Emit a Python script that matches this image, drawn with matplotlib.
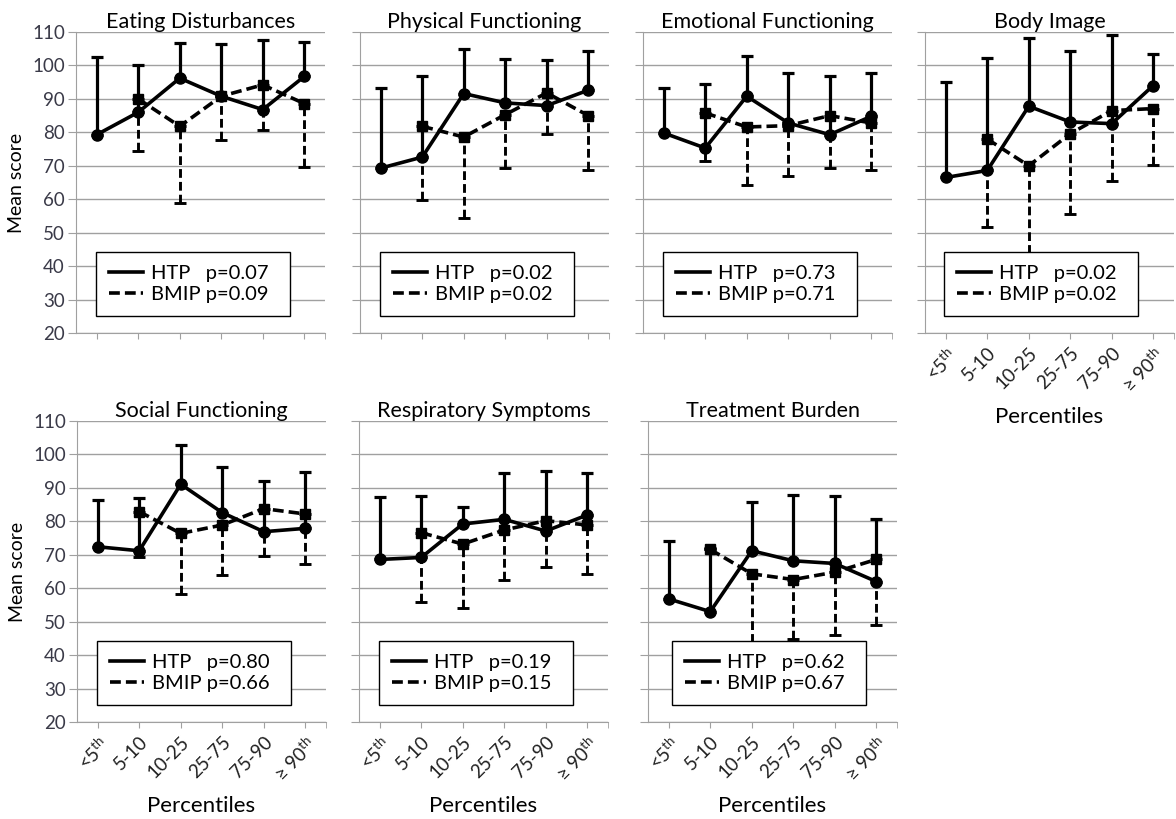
import numpy as np
import matplotlib
matplotlib.use('Agg')
import matplotlib.pyplot as plt
from matplotlib.lines import Line2D

plt.rcParams['font.family'] = ['Lato', 'DejaVu Sans']
plt.rcParams['mathtext.fontset'] = 'custom'
plt.rcParams['mathtext.rm'] = 'Lato'

# categories (percentile groups)
categories = ['<5$^{\\rm th}$', '5-10', '10-25', '25-75', '75-90', '\u2265 90$^{\\rm th}$']

titles = ['Eating Disturbances', 'Physical Functioning', 'Emotional Functioning', 'Body Image',
          'Social Functioning', 'Respiratory Symptoms', 'Treatment Burden']

# HTP mean and upper end of error bar (6 groups)
htp_mean = [
    [79.3, 86.0, 96.2, 90.8, 86.8, 96.7],
    [69.3, 72.6, 91.6, 88.8, 88.0, 92.6],
    [79.8, 75.3, 90.8, 82.8, 79.3, 84.8],
    [66.5, 68.6, 87.8, 83.1, 82.6, 94.0],
    [72.4, 71.2, 91.1, 82.6, 76.9, 77.9],
    [68.6, 69.2, 79.2, 80.6, 77.1, 81.9],
    [56.8, 53.0, 71.2, 68.2, 67.4, 62.0],
]
htp_upper = [
    [102.5, 100.0, 106.7, 106.4, 107.5, 106.9],
    [93.3, 96.9, 104.9, 101.9, 101.7, 104.2],
    [93.3, 94.6, 102.9, 97.7, 96.7, 97.7],
    [95.0, 102.2, 108.2, 104.2, 109.2, 103.4],
    [86.3, 87.1, 102.9, 96.3, 92.1, 94.8],
    [87.3, 87.6, 84.3, 94.5, 95.0, 94.5],
    [74.2, 72.0, 85.8, 87.8, 87.6, 80.6],
]

# BMIP mean and lower end of error bar (groups 5-10 ... >=90th)
bmip_mean = [
    [90.0, 81.8, 90.8, 94.2, 88.6],
    [81.8, 78.6, 85.3, 91.8, 85.0],
    [85.8, 81.6, 82.0, 85.0, 82.8],
    [78.0, 70.0, 79.6, 86.5, 87.1],
    [82.9, 76.4, 78.9, 83.8, 82.2],
    [76.6, 73.2, 77.4, 80.2, 78.9],
    [71.6, 64.3, 62.6, 64.8, 68.6],
]
bmip_lower = [
    [74.3, 58.9, 77.8, 80.8, 69.6],
    [59.9, 54.4, 69.3, 79.5, 68.8],
    [71.3, 64.2, 66.8, 69.3, 68.8],
    [51.7, 36.0, 55.6, 65.5, 70.1],
    [69.4, 58.3, 64.0, 69.7, 67.1],
    [56.0, 54.0, 62.5, 66.2, 64.2],
    [71.6, 36.0, 44.8, 46.0, 48.9],
]

htp_p = ['0.07', '0.02', '0.73', '0.02', '0.80', '0.19', '0.62']
bmip_p = ['0.09', '0.02', '0.71', '0.02', '0.66', '0.15', '0.67']

grey = '#a0a0a0'
dash = (0, (3, 1.4))

fig = plt.figure(figsize=(11.76, 8.19), dpi=100)
W, H = 1176, 819
boxes = [(76, 32), (360, 32), (643, 32), (925, 32),
         (77, 421), (359, 421), (648, 421)]
aw, ah = 249, 301
leg_x = [0.08, 0.08, 0.08, 0.076, 0.08, 0.08, 0.096]

x = np.arange(6)
for i, (px, py) in enumerate(boxes):
    ax = fig.add_axes([px / W, 1 - (py + ah) / H, aw / W, ah / H])
    hm = np.array(htp_mean[i]); hu = np.array(htp_upper[i])
    bm = np.array(bmip_mean[i]); bl = np.array(bmip_lower[i])

    ax.errorbar(x, hm, yerr=[np.zeros(6), hu - hm], fmt='none', ecolor='k',
                elinewidth=2.3, capsize=4, capthick=2.3, zorder=3)
    ax.plot(x, hm, '-o', color='k', lw=2.6, ms=8, zorder=4)
    eb = ax.errorbar(x[1:], bm, yerr=[bm - bl, np.zeros(5)], fmt='none', ecolor='k',
                     elinewidth=2.1, capsize=4, capthick=2.1, zorder=3)
    eb[2][0].set_linestyle(dash)
    ax.plot(x[1:], bm, 's', color='k', ls=dash, lw=2.6, ms=7, zorder=4)

    ax.set_xlim(-0.5, 5.5)
    ax.set_ylim(20, 110)
    ax.set_yticks(np.arange(20, 111, 10))
    ax.set_xticks(x)
    ax.set_xticks([5.5], minor=True)
    ax.grid(axis='y', color=grey, lw=1)
    ax.set_axisbelow(True)
    for s in ['top', 'right']:
        ax.spines[s].set_visible(False)
    for s in ['left', 'bottom']:
        ax.spines[s].set_color(grey)
    ax.tick_params(axis='y', length=6, color=grey, labelsize=13.5, labelcolor='#3a3a48', pad=2)
    ax.tick_params(axis='x', which='both', length=4, color=grey, labelsize=13.5,
                   labelcolor='#202020', pad=4)
    ax.set_title(titles[i], fontsize=15.5, pad=3)

    if i in (0, 4):
        ax.set_ylabel('Mean score', fontsize=14, labelpad=5)
    else:
        ax.set_yticklabels([])
    if i >= 3:
        ax.set_xticklabels(categories, rotation=45, ha='right', rotation_mode='anchor')
        ax.set_xlabel('Percentiles', fontsize=16, labelpad=8)
    else:
        ax.set_xticklabels([])

    handles = [Line2D([], [], color='k', lw=2.6), Line2D([], [], color='k', lw=2.6, ls=dash)]
    labels = ['HTP   p=' + htp_p[i], 'BMIP p=' + bmip_p[i]]
    leg = ax.legend(handles, labels, loc='lower left',
                    bbox_to_anchor=(leg_x[i], 0.055, 0.78, 0.2),
                    mode='expand', borderaxespad=0, fontsize=14.5, handlelength=1.7,
                    handletextpad=0.4, labelspacing=0.2, borderpad=0.65, fancybox=False,
                    framealpha=1, edgecolor='k')
    leg.get_frame().set_linewidth(1.0)
    leg.set_zorder(10)

fig.savefig('out.png', dpi=100)
